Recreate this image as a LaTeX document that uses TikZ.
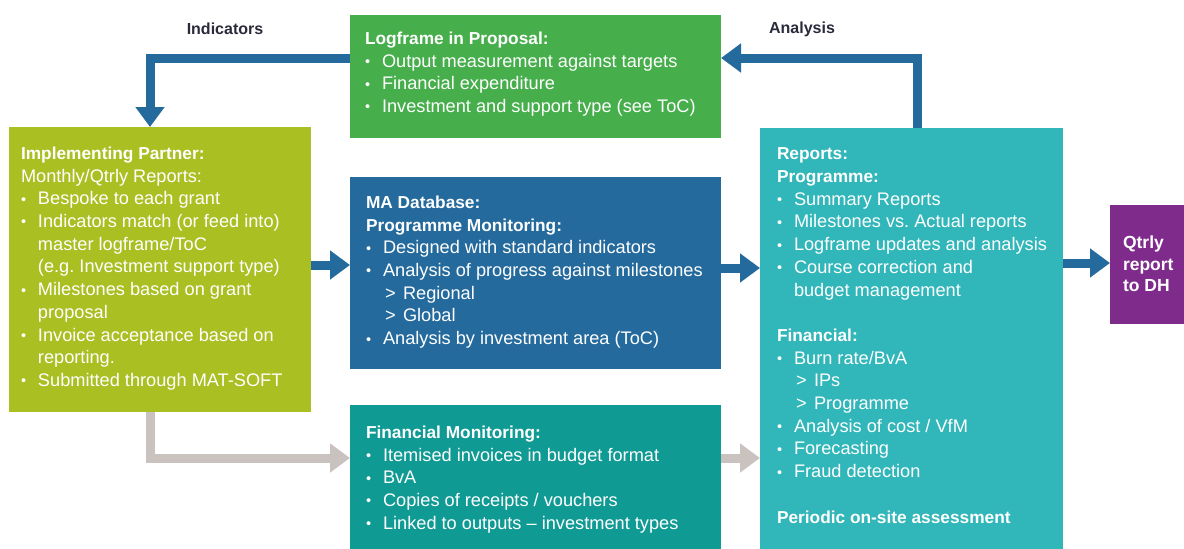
\documentclass[tikz,border=0pt]{standalone}
\usepackage{fontspec}
\setmainfont{Liberation Sans}
\usetikzlibrary{arrows.meta}
\frenchspacing

\definecolor{lfgreen}{HTML}{46AE4B}
\definecolor{iplime}{HTML}{A9BF22}
\definecolor{dbblue}{HTML}{246A9C}
\definecolor{fmteal}{HTML}{109A94}
\definecolor{rpteal}{HTML}{31B6BA}
\definecolor{qrpurple}{HTML}{7E2B8C}
\definecolor{flowgrey}{HTML}{C9C2BE}
\definecolor{labeldark}{HTML}{2A2A3A}

% headings, bullets, continuation and sub-item indents
\newcommand\hd[1]{{\bfseries\fontsize{17.3}{22.7}\selectfont\strut #1}}
\newcommand\bu{\strut\makebox[17pt][l]{\fontsize{14.5}{14.5}\selectfont\raisebox{0.6pt}{•}}}
\newcommand\ct{\strut\hspace*{17pt}}
\newcommand\subit{\strut\hspace*{19pt}\makebox[18pt][l]{>}}

\begin{document}
\begin{tikzpicture}[x=1pt,y=-1pt,
  box/.style={draw=none,inner sep=0,outer sep=0,anchor=north west},
  body/.style={inner sep=0,outer sep=0,anchor=north west,align=left,text=white,
    font=\fontsize{18.2}{22.7}\selectfont},
  lbl/.style={inner sep=0,text=labeldark,font=\bfseries\fontsize{16}{18}\selectfont},
  flow/.style={line width=9pt,line join=miter,-{Triangle[width=28pt,length=20pt]}},
]
\useasboundingbox (0,0) rectangle (1184,549);

% coloured boxes
\node[box,fill=lfgreen,minimum width=371pt,minimum height=123pt] (lf) at (350,15) {};
\node[box,fill=iplime,minimum width=302pt,minimum height=285pt] (ip) at (9,127) {};
\node[box,fill=dbblue,minimum width=371pt,minimum height=192pt] (ma) at (350,177) {};
\node[box,fill=fmteal,minimum width=371pt,minimum height=144pt] (fm) at (350,405) {};
\node[box,fill=rpteal,minimum width=303pt,minimum height=421pt] (rp) at (760,128) {};
\node[box,fill=qrpurple,minimum width=74pt,minimum height=119pt] (qr) at (1110,205) {};

% box texts
\node[body] (lft) at (365,28.6) {\hd{Logframe in Proposal:}\\
  \bu Output measurement against targets\\
  \bu Financial expenditure\\
  \bu Investment and support type (see ToC)};

\node[body] (ipt) at (21,143.6) {\hd{Implementing Partner:}\\
  \strut Monthly/Qtrly Reports:\\
  \bu Bespoke to each grant\\
  \bu Indicators match (or feed into)\\
  \ct master logframe/ToC\\
  \ct (e.g. Investment support type)\\
  \bu Milestones based on grant\\
  \ct proposal\\
  \bu Invoice acceptance based on\\
  \ct reporting.\\
  \bu Submitted through MAT-SOFT};

\node[body] (mat) at (366,192.6) {\hd{MA Database:}\\
  \hd{Programme Monitoring:}\\
  \bu Designed with standard indicators\\
  \bu Analysis of progress against milestones\\
  \subit Regional\\
  \subit Global\\
  \bu Analysis by investment area (ToC)};

\node[body] (fmt) at (366,422.6) {\hd{Financial Monitoring:}\\
  \bu Itemised invoices in budget format\\
  \bu BvA\\
  \bu Copies of receipts / vouchers\\
  \bu Linked to outputs – investment types};

\node[body] (rpt) at (777,144) {\hd{Reports:}\\
  \hd{Programme:}\\
  \bu Summary Reports\\
  \bu Milestones vs. Actual reports\\
  \bu Logframe updates and analysis\\
  \bu Course correction and\\
  \ct budget management\\[22.7pt]
  \hd{Financial:}\\
  \bu Burn rate/BvA\\
  \subit IPs\\
  \subit Programme\\
  \bu Analysis of cost / VfM\\
  \bu Forecasting\\
  \bu Fraud detection\\[22.7pt]
  \hd{Periodic on-site assessment}};

\node[body,font=\bfseries\fontsize{17.5}{21.3}\selectfont] (qrt) at (1123,234) {\strut Qtrly\\ \strut report\\ \strut to DH};

% arrow labels
\node[lbl] (indl) at (225,29) {Indicators};
\node[lbl] (anal) at (802,29) {Analysis};

% bend points and arrow rows
\coordinate (ind) at (150,58);
\coordinate (ana) at (917,58);
\coordinate (row1) at (0,265);
\coordinate (row2) at (0,268);
\coordinate (row3) at (0,263);
\coordinate (gry) at (150,458);

% blue flows
\draw[flow,dbblue] (lf.west |- ind) -- (ind) -- (ind |- ip.north);
\draw[flow,dbblue] (rp.north -| ana) -- (ana) -- (ana -| lf.east);
\draw[flow,dbblue] (ip.east |- row1) -- (ma.west |- row1);
\draw[flow,dbblue] (ma.east |- row2) -- (rp.west |- row2);
\draw[flow,dbblue] (rp.east |- row3) -- (qr.west |- row3);

% grey flows
\draw[flow,flowgrey] (ip.south -| gry) -- (gry) -- (fm.west |- gry);
\draw[flow,flowgrey] (fm.east |- gry) -- (rp.west |- gry);
\end{tikzpicture}
\end{document}
